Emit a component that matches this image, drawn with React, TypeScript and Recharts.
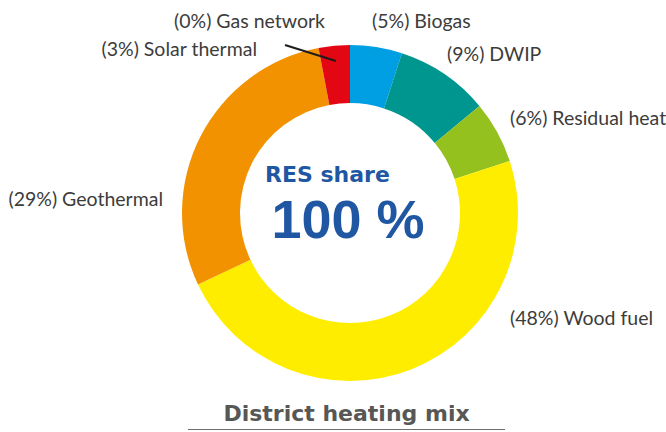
import { PieChart, Pie, Cell } from 'recharts';

const sources = ['Biogas', 'DWIP', 'Residual heat', 'Wood fuel', 'Geothermal', 'Solar thermal', 'Gas network'];
const shares = [5, 9, 6, 48, 29, 3, 0];
const resShare = '100 %';
const title = 'District heating mix';

const sliceColors = ['#009fe3', '#009690', '#95c11f', '#ffed00', '#f39200', '#e30613', '#1d1d1b'];

// label anchors, relative to the pie centre
const labelPlace: Record<string, { dx: number; dy: number; anchor: 'start' | 'end' }> = {
  Biogas: { dx: 22, dy: -193, anchor: 'start' },
  DWIP: { dx: 97, dy: -160, anchor: 'start' },
  'Residual heat': { dx: 160, dy: -96, anchor: 'start' },
  'Wood fuel': { dx: 160, dy: 104, anchor: 'start' },
  Geothermal: { dx: -187, dy: -15, anchor: 'end' },
  'Solar thermal': { dx: -93, dy: -165, anchor: 'end' },
  'Gas network': { dx: -25, dy: -193, anchor: 'end' },
};

const data = sources.map((name, i) => ({ name, value: shares[i] }));

const FONT = 'Lato, "Open Sans", sans-serif';
const BOLD = '"DejaVu Sans", sans-serif';

function renderLabel(props: any) {
  const { cx, cy, index } = props;
  const name = sources[index];
  const p = labelPlace[name];
  if (!p) return null;
  return (
    <g key={`lbl-${index}`}>
      {name === 'Gas network' && (
        <line x1={cx - 65} y1={cy - 168} x2={cx - 14} y2={cy - 152} stroke="#1d1d1b" strokeWidth={2} />
      )}
      <text
        x={cx + p.dx}
        y={cy + p.dy}
        textAnchor={p.anchor}
        dominantBaseline="central"
        fill="#3c3c3b"
        fontSize={19.5}
        fontFamily={FONT}
      >
        {`(${shares[index]}%) ${name}`}
      </text>
    </g>
  );
}

export default function App() {
  return (
    <div style={{ position: 'absolute', left: 0, top: 0, width: 666, height: 432, background: '#fff' }}>
      <PieChart width={666} height={432} margin={{ top: 0, right: 0, bottom: 0, left: 0 }}>
        <Pie
          data={data}
          dataKey="value"
          nameKey="name"
          cx={350}
          cy={213}
          innerRadius={110}
          outerRadius={168}
          startAngle={90}
          endAngle={-270}
          stroke="none"
          label={renderLabel}
          labelLine={false}
          isAnimationActive={false}
        >
          {data.map((d, i) => (
            <Cell key={d.name} fill={sliceColors[i]} />
          ))}
        </Pie>
      </PieChart>
      <div
        style={{
          position: 'absolute',
          left: 265,
          top: 162,
          fontFamily: BOLD,
          fontWeight: 700,
          fontSize: 22,
          color: '#1f57a3',
          lineHeight: '26px',
          whiteSpace: 'nowrap',
        }}
      >
        RES share
      </div>
      <div
        style={{
          position: 'absolute',
          left: 248,
          width: 200,
          top: 199,
          textAlign: 'center',
          fontFamily: '"Liberation Sans", Arial, sans-serif',
          fontWeight: 700,
          fontSize: 54,
          color: '#1f57a3',
          lineHeight: '40px',
          whiteSpace: 'nowrap',
        }}
      >
        {resShare}
      </div>
      <div
        style={{
          position: 'absolute',
          left: 188,
          width: 317,
          top: 398,
          height: 31,
          borderBottom: '1.5px solid #6f6f6e',
          textAlign: 'center',
          fontFamily: BOLD,
          fontWeight: 700,
          fontSize: 22,
          color: '#575756',
          lineHeight: '31px',
          whiteSpace: 'nowrap',
        }}
      >
        {title}
      </div>
    </div>
  );
}
